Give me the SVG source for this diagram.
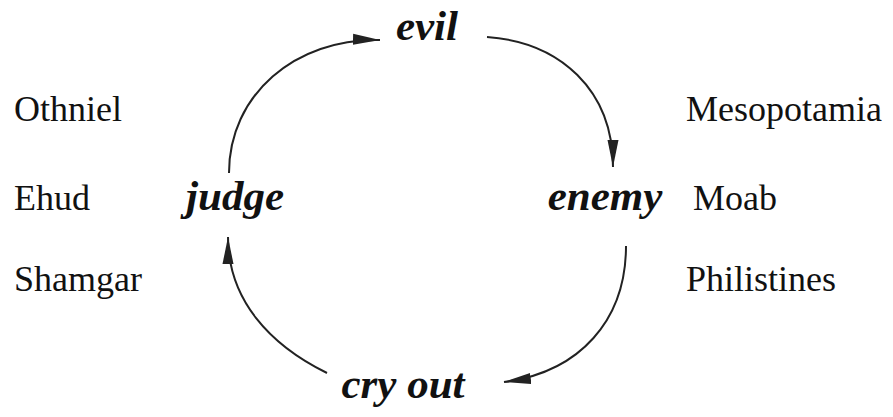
<svg xmlns="http://www.w3.org/2000/svg" width="893" height="417" viewBox="0 0 893 417">
<style>
.node{font-family:"Liberation Serif","Times New Roman",serif;font-size:43px;font-weight:bold;font-style:italic;fill:#111}
.name{font-family:"Liberation Serif","Times New Roman",serif;font-size:36px;fill:#111}
.conn{fill:none;stroke:#222;stroke-width:2}
</style>
<defs>
<marker id="ah" markerUnits="userSpaceOnUse" markerWidth="28" markerHeight="12" refX="27" refY="6" orient="auto">
<path d="M0,0.5 L27,6 L0,11.5 Z" fill="#222"/>
</marker>
</defs>
<rect width="893" height="417" fill="#fff"/>
<g id="connectors">
<path class="conn" d="M229,173 C229,95 295,38 380,40" marker-end="url(#ah)"/>
<path class="conn" d="M487,37 C560,42 613,90 613,167" marker-end="url(#ah)"/>
<path class="conn" d="M626,246 C626,320 580,372 504,382" marker-end="url(#ah)"/>
<path class="conn" d="M327,373 C270,345 228,300 228,237" marker-end="url(#ah)"/>
</g>
<g id="evil"><text class="node" x="427" y="40" text-anchor="middle">evil</text></g>
<g id="enemy"><text class="node" x="605" y="210" text-anchor="middle">enemy</text></g>
<g id="cryout"><text class="node" x="403" y="398" text-anchor="middle">cry out</text></g>
<g id="judge"><text class="node" x="235" y="210" text-anchor="middle">judge</text></g>
<g id="judges">
<text class="name" x="14" y="121">Othniel</text>
<text class="name" x="14" y="210">Ehud</text>
<text class="name" x="14" y="291">Shamgar</text>
</g>
<g id="enemies">
<text class="name" x="686" y="121">Mesopotamia</text>
<text class="name" x="693" y="210">Moab</text>
<text class="name" x="686" y="291">Philistines</text>
</g>
</svg>
